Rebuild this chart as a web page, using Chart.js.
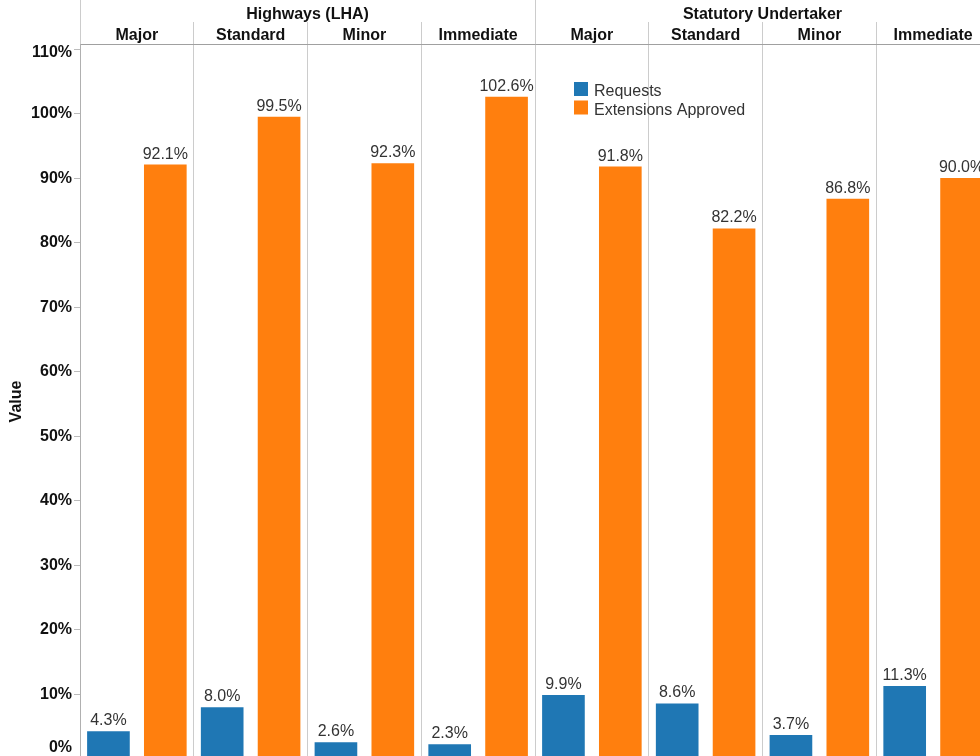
<!DOCTYPE html>
<html>
<head>
<meta charset="utf-8">
<title>Requests and Extensions Approved</title>
<script src="https://cdn.jsdelivr.net/npm/chart.js@4.4.1/dist/chart.umd.min.js"></script>
<style>
  html, body { margin: 0; padding: 0; background: #fff; overflow: hidden; }
  #wrap { width: 990px; height: 759px; }
</style>
</head>
<body>
<div id="wrap"><canvas id="chart" width="990" height="759"></canvas></div>
<script>
// header groups and the work categories under them
const groups = ['Highways (LHA)', 'Statutory Undertaker'];
const categories = ['Major', 'Standard', 'Minor', 'Immediate', 'Major', 'Standard', 'Minor', 'Immediate'];

// percentages per category
const requests = [4.3, 8.0, 2.6, 2.3, 9.9, 8.6, 3.7, 11.3];
const extensionsApproved = [92.1, 99.5, 92.3, 102.6, 91.8, 82.2, 86.8, 90.0];

// y axis ticks
const yTicks = [0, 10, 20, 30, 40, 50, 60, 70, 80, 90, 100, 110];

const FONT = '"Liberation Sans", Arial, sans-serif';
const pct = v => v + '%';

// value labels above each bar
const barLabels = {
  id: 'barLabels',
  afterDatasetsDraw(chart) {
    const ctx = chart.ctx;
    ctx.save();
    ctx.font = '16px ' + FONT;
    ctx.fillStyle = '#333';
    ctx.textAlign = 'center';
    ctx.textBaseline = 'alphabetic';
    chart.data.datasets.forEach((ds, i) => {
      chart.getDatasetMeta(i).data.forEach((bar, j) => {
        ctx.fillText(ds.data[j].toFixed(1) + '%', bar.x, bar.y - 6);
      });
    });
    ctx.restore();
  }
};

// first and last y labels are pulled inward so they stay clear of the edges
const edgeTickLabels = {
  id: 'edgeTickLabels',
  afterDraw(chart) {
    const y = chart.scales.y;
    const ctx = chart.ctx;
    const first = yTicks[0], last = yTicks[yTicks.length - 1];
    ctx.save();
    ctx.font = 'bold 16px ' + FONT;
    ctx.fillStyle = '#111';
    ctx.textAlign = 'right';
    ctx.textBaseline = 'middle';
    ctx.fillText(pct(first), y.right - 8, Math.min(y.getPixelForValue(first), 748));
    ctx.fillText(pct(last), y.right - 8, Math.max(y.getPixelForValue(last), 53));
    ctx.restore();
  }
};

// small legend drawn inside the plot
const innerLegend = {
  id: 'innerLegend',
  afterDraw(chart) {
    const ctx = chart.ctx;
    const x = 574, y = 82;
    ctx.save();
    ctx.font = '16px ' + FONT;
    ctx.textBaseline = 'alphabetic';
    chart.data.datasets.forEach((ds, i) => {
      const top = y + i * 18.5;
      ctx.fillStyle = ds.backgroundColor;
      ctx.fillRect(x, top, 14, 14);
      ctx.fillStyle = '#333';
      ctx.fillText(ds.label, x + 20, top + 14);
    });
    ctx.restore();
  }
};

new Chart(document.getElementById('chart'), {
  type: 'bar',
  data: {
    labels: categories,
    datasets: [
      { label: 'Requests', data: requests, backgroundColor: '#1f77b4' },
      { label: 'Extensions Approved', data: extensionsApproved, backgroundColor: '#ff7f0e' }
    ]
  },
  options: {
    responsive: false,
    animation: false,
    layout: { padding: 0 },
    categoryPercentage: 1.0,
    barPercentage: 0.75,
    plugins: {
      legend: { display: false },
      tooltip: { enabled: false }
    },
    scales: {
      x: {
        position: 'top',
        weight: 0,
        grid: { offset: true, color: '#cccccc', tickLength: 22, drawTicks: true },
        border: { display: true, color: '#a0a0a0' },
        ticks: { padding: -23, color: '#111', font: { family: FONT, size: 16, weight: 'bold' }, maxRotation: 0, autoSkip: false },
        afterFit(scale) { scale.height = 22; scale.paddingLeft = 0; scale.paddingRight = 0; }
      },
      x2: {
        type: 'category',
        labels: groups,
        position: 'top',
        weight: 1,
        offset: true,
        grid: { offset: true, color: '#cccccc', tickLength: 22, drawTicks: true },
        border: { display: false },
        ticks: { padding: -24, color: '#111', font: { family: FONT, size: 16, weight: 'bold' }, maxRotation: 0 },
        afterFit(scale) { scale.height = 22; scale.paddingLeft = 0; scale.paddingRight = 0; }
      },
      y: {
        min: 0,
        max: 110.78,
        grid: { drawOnChartArea: false, tickLength: 6, color: '#bbbbbb' },
        border: { display: true, color: '#b0b0b0' },
        afterBuildTicks(scale) { scale.ticks = yTicks.map(v => ({ value: v })); },
        ticks: {
          padding: 2,
          color: '#111',
          font: { family: FONT, size: 16, weight: 'bold' },
          // the two end labels are drawn by edgeTickLabels
          callback: v => (v === yTicks[0] || v === yTicks[yTicks.length - 1]) ? '' : pct(v)
        },
        title: {
          display: true,
          text: 'Value',
          color: '#111',
          padding: { top: 7, bottom: 0 },
          font: { family: FONT, size: 16, weight: 'bold' }
        },
        afterFit(scale) { scale.width = 80; scale.paddingTop = 0; scale.paddingBottom = 0; }
      }
    }
  },
  plugins: [barLabels, edgeTickLabels, innerLegend]
});
</script>
</body>
</html>
